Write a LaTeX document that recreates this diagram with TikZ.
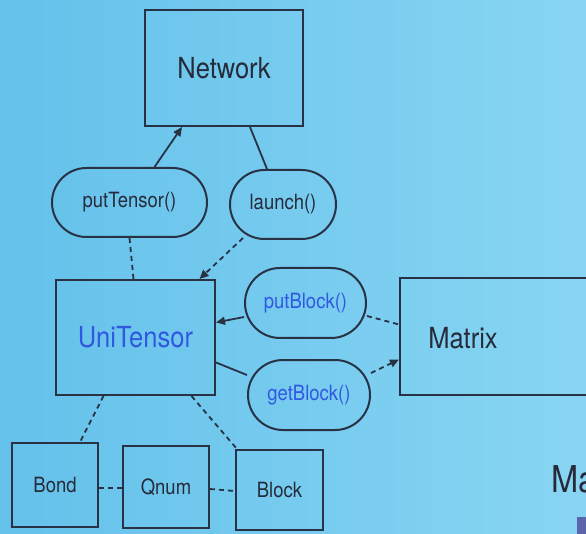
\documentclass[tikz,border=0pt]{standalone}
\usepackage{fontspec}
\setmainfont{TeX Gyre Heros}[FakeStretch=0.88]
\usetikzlibrary{arrows.meta,shapes.misc}

\definecolor{bgL}{RGB}{100,193,234}
\definecolor{bgR}{RGB}{136,213,243}
\definecolor{ink}{RGB}{40,50,68}
\definecolor{txt}{RGB}{38,42,58}
\definecolor{blu}{RGB}{48,88,225}
\definecolor{tab}{RGB}{92,100,170}

\tikzset{
  box/.style={draw=ink, line width=2pt, rectangle, inner sep=0pt},
  pill/.style={draw=ink, line width=2pt, rounded rectangle, minimum height=69pt, inner sep=0pt},
  big/.style={font=\fontsize{29}{32}\selectfont, text=txt},
  small/.style={font=\fontsize{21}{24}\selectfont, text=txt},
  link/.style={draw=ink, line width=1.8pt},
  dlink/.style={link, dash pattern=on 5pt off 4pt},
  tip/.style={-{Triangle[length=9pt,width=8pt]}}
}

\begin{document}
\begin{tikzpicture}[x=1pt, y=-1pt]
  \useasboundingbox (0,0) rectangle (586,534);
  \clip (0,0) rectangle (586,534);
  \shade[left color=bgL, right color=bgR] (0,0) rectangle (586,534);

  % classes
  \node[box, big, minimum width=158pt, minimum height=116pt] (network) at (224,68) {Network};
  \node[box, big, text=blu, minimum width=159pt, minimum height=115pt] (unitensor) at (135.5,337.5) {UniTensor};
  \node[box, minimum width=200pt, minimum height=117pt] (matrix) at (500,336.5) {};
  \node[big] (matrixtext) at (463,338) {Matrix};
  \node[box, small, minimum width=86pt, minimum height=84pt] (bond) at (55,485) {Bond};
  \node[box, small, minimum width=86pt, minimum height=82pt] (qnum) at (166,487) {Qnum};
  \node[box, small, minimum width=87pt, minimum height=80pt] (block) at (279.5,490) {Block};

  % methods
  \node[pill, small, minimum width=155pt] (puttensor) at (129.5,202.5) {putTensor()};
  \node[pill, small, minimum width=106pt] (launch) at (283,204.5) {launch()};
  \node[pill, small, text=blu, minimum width=121pt, minimum height=70pt] (putblock) at (305.5,303) {putBlock()};
  \node[pill, small, text=blu, minimum width=122pt, minimum height=70pt] (getblock) at (309,395) {getBlock()};

  % edge of the next slide column
  \node[font=\fontsize{37}{40}\selectfont, text=txt, anchor=west, inner sep=0pt] (matext) at (551,479) {Ma};
  \fill[tab] (577,517) rectangle (592,540);

  % connectors
  \draw[link, tip] ([xshift=25pt]puttensor.north) -- ([xshift=-42pt]network.south);
  \draw[link] ([xshift=-16pt]launch.north) -- ([xshift=26pt]network.south);
  \draw[dlink] (puttensor.south) -- ([xshift=-2pt]unitensor.north);
  \draw[dlink, tip] ([xshift=-40pt,yshift=2pt]launch.south) -- ([xshift=64pt]unitensor.north);
  \draw[link, tip] ([yshift=-14pt]putblock.west) -- ([yshift=15pt]unitensor.east);
  \draw[link] ([yshift=-25pt]unitensor.east) -- ([yshift=20pt]getblock.west);
  \draw[dlink] ([yshift=-13pt]putblock.east) -- ([yshift=12pt]matrix.west);
  \draw[dlink, tip] ([yshift=22pt]getblock.east) -- ([yshift=-23pt]matrix.west);
  \draw[dlink] ([xshift=-32pt]unitensor.south) -- ([xshift=25pt]bond.north);
  \draw[dlink] ([xshift=56pt]unitensor.south) -- ([xshift=2pt]block.north west);
  \draw[dlink] ([yshift=-3pt]bond.east) -- ([yshift=-1pt]qnum.west);
  \draw[dlink] ([yshift=-2pt]qnum.east) -- ([yshift=-1pt]block.west);
\end{tikzpicture}
\end{document}
